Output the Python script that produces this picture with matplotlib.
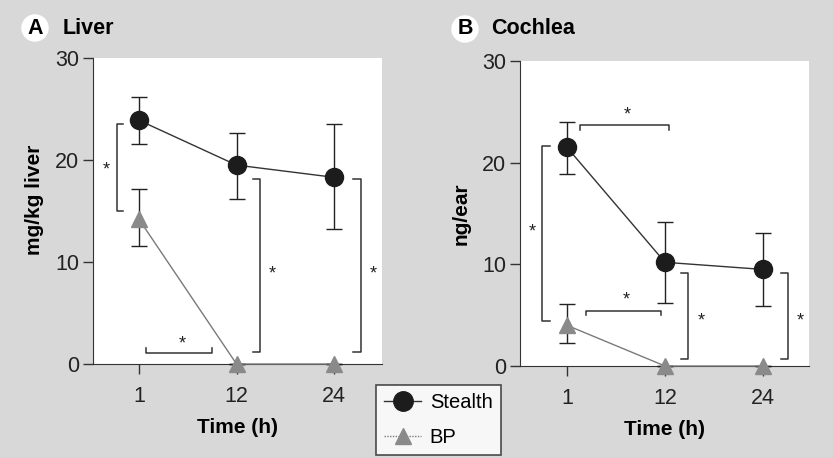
import numpy as np
import matplotlib
matplotlib.use('Agg')
import matplotlib.pyplot as plt
from matplotlib.lines import Line2D

# data
times = ['1', '12', '24']

liver_stealth = [23.9, 19.5, 18.3]
liver_stealth_lo = [21.6, 16.2, 13.2]
liver_stealth_hi = [26.2, 22.6, 23.5]
liver_bp = [14.2, 0.0, 0.0]
liver_bp_lo = [11.6, 0.0, 0.0]
liver_bp_hi = [17.2, 0.0, 0.0]

cochlea_stealth = [21.5, 10.2, 9.5]
cochlea_stealth_lo = [18.9, 6.2, 5.9]
cochlea_stealth_hi = [24.0, 14.2, 13.1]
cochlea_bp = [4.0, 0.0, 0.0]
cochlea_bp_lo = [2.3, 0.0, 0.0]
cochlea_bp_hi = [6.1, 0.0, 0.0]

# significance brackets: (orientation, a0, a1, pos, tick, star_x, star_y)
# 'v' -> vertical line at x=pos from y=a0..a1, ticks toward pos+tick
# 'h' -> horizontal line at y=pos from x=a0..a1, ticks toward pos+tick
liver_brackets = [
    ('v', 15.0, 23.5, -0.226, 0.062, -0.33, 19.0),
    ('h', 0.07, 0.75, 1.1, 0.5, 0.44, 2.0),
    ('v', 1.2, 18.1, 1.24, -0.07, 1.37, 8.8),
    ('v', 1.2, 18.1, 2.28, -0.09, 2.40, 8.8),
]
cochlea_brackets = [
    ('h', 0.13, 1.04, 23.7, -0.5, 0.61, 24.7),
    ('v', 4.4, 21.6, -0.255, 0.085, -0.35, 13.2),
    ('h', 0.19, 0.96, 5.4, -0.4, 0.60, 6.5),
    ('v', 0.7, 9.1, 1.23, -0.07, 1.37, 4.4),
    ('v', 0.7, 9.1, 2.26, -0.08, 2.38, 4.4),
]

BG = '#d8d8d8'
fig = plt.figure(figsize=(8.33, 4.58), dpi=100, facecolor=BG)
plt.rcParams['font.family'] = ['Liberation Sans', 'DejaVu Sans']

W, H = 833.0, 458.0


def make_axes(x0, x1, ytop, ybot):
    return fig.add_axes([x0 / W, 1 - ybot / H, (x1 - x0) / W, (ybot - ytop) / H],
                        facecolor='white')


def draw_panel(ax, st, st_lo, st_hi, bp, bp_lo, bp_hi, brackets, ylabel,
               xlim, ylab_y):
    x = np.arange(len(times))
    st = np.array(st)
    bp = np.array(bp)
    st_err = [st - np.array(st_lo), np.array(st_hi) - st]
    bp_err = [bp - np.array(bp_lo), np.array(bp_hi) - bp]
    ax.errorbar(x, bp, yerr=bp_err, color='#7a7a7a', lw=1.0, marker='^',
                ms=12, mfc='#8a8a8a', mec='#8a8a8a', ecolor='#222222',
                elinewidth=1.0, capsize=5.5, capthick=1.0, zorder=3,
                clip_on=False)
    ax.errorbar(x, st, yerr=st_err, color='#333333', lw=1.0, marker='o',
                ms=13, mfc='#1c1c1c', mec='#1c1c1c', ecolor='#222222',
                elinewidth=1.0, capsize=5.5, capthick=1.0, zorder=4,
                clip_on=False)
    for o, a0, a1, pos, tick, sx, sy in brackets:
        if o == 'v':
            ax.plot([pos + tick, pos, pos, pos + tick], [a0, a0, a1, a1],
                    color='#333333', lw=1.1, clip_on=False)
        else:
            ax.plot([a0, a0, a1, a1], [pos + tick, pos, pos, pos + tick],
                    color='#333333', lw=1.1, clip_on=False)
        ax.text(sx, sy, '*', fontsize=13, ha='center', va='center',
                color='#222222')
    ax.set_xlim(*xlim)
    ax.set_ylim(0, 30)
    ax.set_xticks(x)
    ax.set_xticklabels(times)
    ax.set_yticks([0, 10, 20, 30])
    ax.spines['top'].set_visible(False)
    ax.spines['right'].set_visible(False)
    ax.spines['left'].set_color('#333333')
    ax.spines['bottom'].set_color('#333333')
    ax.tick_params(axis='both', labelsize=15.5, length=7, width=1.0,
                   color='#333333', labelcolor='#222222')
    ax.tick_params(axis='x', pad=9)
    ax.tick_params(axis='y', pad=3)
    ax.set_xlabel('Time (h)', fontsize=15, fontweight='bold', labelpad=8)
    ax.set_ylabel(ylabel, fontsize=15, fontweight='bold')
    ax.yaxis.set_label_coords(-0.17, ylab_y)


axA = make_axes(93, 382, 58, 364)
draw_panel(axA, liver_stealth, liver_stealth_lo, liver_stealth_hi,
           liver_bp, liver_bp_lo, liver_bp_hi, liver_brackets,
           'mg/kg liver', (-0.47, 2.49), 0.535)

axB = make_axes(520, 809, 61, 366)
draw_panel(axB, cochlea_stealth, cochlea_stealth_lo, cochlea_stealth_hi,
           cochlea_bp, cochlea_bp_lo, cochlea_bp_hi, cochlea_brackets,
           'ng/ear', (-0.48, 2.47), 0.5)

circ = dict(boxstyle='circle,pad=0.15', fc='white', ec='none')
fig.text(35 / W, 1 - 28 / H, 'A', fontsize=15.5, fontweight='bold',
         ha='center', va='center', bbox=circ)
fig.text(63 / W, 1 - 28 / H, 'Liver', fontsize=15.5, fontweight='bold',
         ha='left', va='center')
fig.text(465 / W, 1 - 29 / H, 'B', fontsize=15.5, fontweight='bold',
         ha='center', va='center', bbox=circ)
fig.text(491 / W, 1 - 29 / H, 'Cochlea', fontsize=15.5, fontweight='bold',
         ha='left', va='center')

handles = [
    Line2D([], [], color='#333333', lw=1.0, marker='o', ms=14,
           mfc='#1c1c1c', mec='#1c1c1c'),
    Line2D([], [], color='#7a7a7a', lw=1.0, ls=(0, (1, 1)), marker='^',
           ms=12, mfc='#8a8a8a', mec='#8a8a8a'),
]
leg = fig.legend(handles, ['Stealth', 'BP'], loc='center',
                 bbox_to_anchor=(438.5 / W, 1 - 420 / H), fontsize=14.5,
                 frameon=True, fancybox=False, edgecolor='#222222',
                 handlelength=1.8, handletextpad=0.45, borderpad=0.4,
                 labelspacing=0.75, borderaxespad=0)
leg.get_frame().set_linewidth(1.2)
leg.get_frame().set_facecolor('white')

fig.savefig('out.png', dpi=100, facecolor=BG)
